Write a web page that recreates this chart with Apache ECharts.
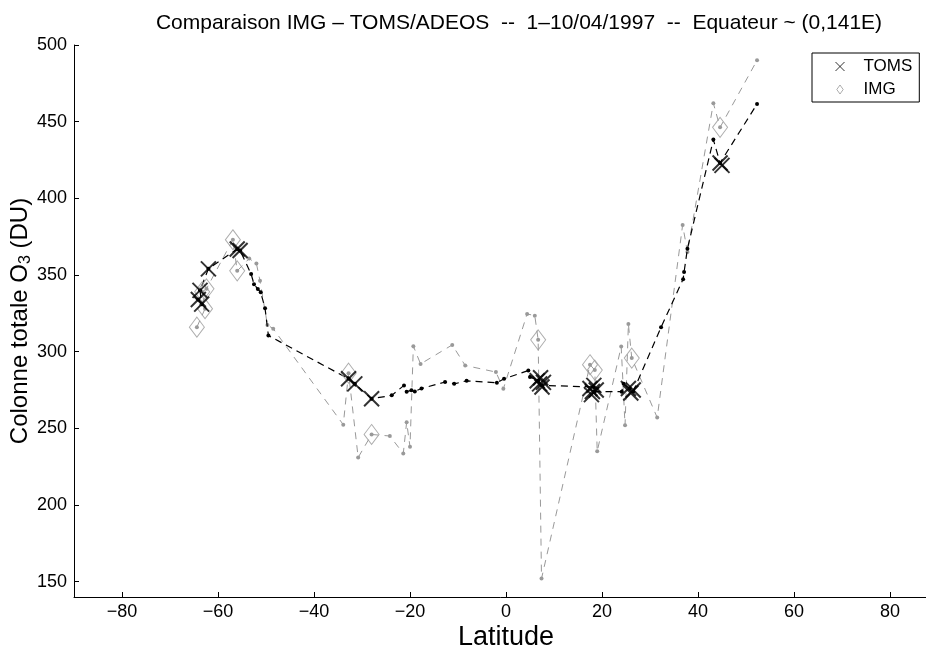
<!DOCTYPE html>
<html>
<head>
<meta charset="utf-8">
<script src="https://cdn.jsdelivr.net/npm/echarts@6/dist/echarts.min.js"></script>
<style>
  html, body { margin: 0; padding: 0; background: #fff; }
  #chart { width: 926px; height: 650px; }
</style>
</head>
<body>
<div id="chart"></div>
<script>
// tick values
const xTicks = [-80, -60, -40, -20, 0, 20, 40, 60, 80];
const yTicks = [150, 200, 250, 300, 350, 400, 450, 500];

// TOMS along-track values [latitude, DU]
const tomsTrack = [
  [-64.1, 334], [-63.4, 331], [-63.75, 340], [-62, 354], [-56, 367], [-55.4, 366],
  [-53.1, 350.6], [-52.5, 344], [-51.7, 340.8], [-51.1, 338.7], [-50.2, 328.3], [-49.5, 310.5],
  [-32.8, 282.3], [-31.5, 279], [-28, 269.3], [-23.8, 271.5], [-21.25, 278], [-20.7, 273.9],
  [-19.7, 274.8], [-19, 274.1], [-17.6, 276], [-12.7, 280.2], [-10.8, 279], [-8.2, 281],
  [-1.9, 279.7], [-0.4, 282.3], [4.65, 287.7], [5, 283.4], [6.7, 281.2], [7.5, 278],
  [18.2, 277], [18.5, 274], [24.1, 273.9], [24.5, 279], [25.8, 275.8], [26.5, 274],
  [32.3, 315.9], [36.9, 347.3], [37.1, 352], [37.8, 367.2], [43.2, 438.3], [44.6, 423.1],
  [52.3, 461.5]
];

// IMG along-track values [latitude, DU]
const imgTrack = [
  [-64.4, 316], [-62.7, 328], [-63.3, 339], [-62.4, 341], [-56.9, 373], [-56, 352.7],
  [-53.5, 360.7], [-52, 357.5], [-51.25, 346.2], [-49.7, 317.4], [-48.5, 315],
  [-33.9, 252.4], [-32.8, 286], [-30.8, 231], [-28, 246], [-24.2, 245], [-21.4, 233.6],
  [-20.7, 254], [-20, 238], [-19.3, 303.6], [-17.8, 292], [-11.2, 304.4], [-8.5, 291],
  [-2.1, 286.7], [-0.55, 275.8], [4.4, 324.6], [6, 323.5], [6.7, 307.7], [7.4, 152],
  [17.5, 291.5], [18.5, 288], [19, 235], [24, 303.3], [24.8, 252], [25.5, 318],
  [26.2, 295.8], [31.5, 257], [36.8, 382.6], [37.8, 365], [43.2, 462], [44.6, 446.3],
  [52.3, 490]
];

// coincident points
const tomsMatch = [
  [-64.1, 334], [-63.4, 331], [-63.75, 340], [-62, 354], [-56, 367], [-55.4, 366],
  [-32.8, 282.3], [-31.5, 279], [-28, 269.3],
  [6.5, 281], [7, 279], [7.5, 277], [7.8, 280], [7.2, 283],
  [17.5, 276], [18, 274], [18.3, 278], [18.8, 275], [17.8, 272],
  [25.5, 276], [26, 273], [26.5, 275],
  [44.6, 423], [45, 421.5]
];
const imgMatch = [
  [-64.4, 316], [-63.3, 339], [-62.7, 328], [-62.4, 341], [-56.9, 373], [-56, 352.7],
  [-32.8, 286], [-28, 246], [6.7, 307.7], [17.5, 291.5], [18.5, 288], [26.2, 295.8],
  [44.6, 446.3]
];

const GRAY = '#999999';
const crossPath = 'path://M0,0L10,10M10,0L0,10';
const FONT = 'Liberation Sans, Arial, sans-serif';

const getOption = () => {
  return {
    animation: false,
    backgroundColor: '#fff',
    textStyle: { fontFamily: FONT },
    title: {
      text: 'Comparaison IMG \u2013 TOMS/ADEOS  --  1\u201310/04/1997  --  Equateur ~ (0,141E)',
      left: 514,
      top: 8,
      textAlign: 'center',
      textStyle: { fontFamily: FONT, fontSize: 21, fontWeight: 'normal', color: '#000' }
    },
    legend: {
      orient: 'vertical',
      left: 812,
      top: 53,
      padding: [5, 7, 4, 21],
      itemGap: 6,
      itemWidth: 9,
      itemHeight: 9,
      borderColor: '#000',
      borderWidth: 1,
      textStyle: { fontFamily: FONT, fontSize: 17, color: '#000', padding: [0, 0, 0, 14] },
      data: [
        { name: 'TOMS', icon: crossPath, itemStyle: { color: 'none', borderColor: '#000', borderWidth: 1 } },
        { name: 'IMG', icon: 'path://M5,0L10,7L5,14L0,7Z', itemStyle: { color: 'none', borderColor: GRAY, borderWidth: 1 } }
      ]
    },
    grid: { left: 74, right: -12, top: 45, bottom: 53, containLabel: false, outerBoundsMode: 'none' },
    xAxis: {
      type: 'value',
      min: -90,
      max: 90,
      name: 'Latitude',
      nameLocation: 'middle',
      nameGap: 27,
      nameMoveOverlap: false,
      nameTextStyle: { fontFamily: FONT, fontSize: 27, color: '#000' },
      splitLine: { show: false },
      axisLine: { onZero: false, lineStyle: { color: '#000', width: 1 } },
      axisTick: { inside: true, length: 5, customValues: xTicks, lineStyle: { color: '#000' } },
      axisLabel: { customValues: xTicks, fontSize: 18, color: '#000', margin: 6,
        formatter: v => (v < 0 ? '\u2212' + Math.abs(v) : '' + v) }
    },
    yAxis: {
      type: 'value',
      min: 140,
      max: 500,
      name: '{a|Colonne totale O}{s|3}{a| (DU)}',
      nameLocation: 'middle',
      nameGap: 40,
      nameMoveOverlap: false,
      nameRotate: 90,
      nameTextStyle: {
        rich: {
          a: { fontFamily: FONT, fontSize: 24, color: '#000' },
          s: { fontFamily: FONT, fontSize: 16, color: '#000', padding: [12, 0, 0, 0] }
        }
      },
      splitLine: { show: false },
      axisLine: { onZero: false, lineStyle: { color: '#000', width: 1 } },
      axisTick: { inside: true, length: 5, customValues: yTicks, lineStyle: { color: '#000' } },
      axisLabel: { customValues: yTicks, fontSize: 18, color: '#000', margin: 7 }
    },
    series: [
      {
        name: 'IMG track',
        type: 'line',
        data: imgTrack,
        symbol: 'circle',
        symbolSize: 4,
        showSymbol: true,
        itemStyle: { color: GRAY },
        lineStyle: { color: GRAY, width: 1, type: [7, 6] },
        z: 2
      },
      {
        name: 'TOMS track',
        type: 'line',
        data: tomsTrack,
        symbol: 'circle',
        symbolSize: 4,
        showSymbol: true,
        itemStyle: { color: '#000' },
        lineStyle: { color: '#000', width: 1.2, type: [7, 5] },
        z: 3
      },
      {
        name: 'IMG',
        type: 'scatter',
        data: imgMatch,
        symbol: 'diamond',
        symbolSize: [15, 20],
        itemStyle: { color: 'transparent', borderColor: GRAY, borderWidth: 1 },
        z: 4
      },
      {
        name: 'TOMS',
        type: 'scatter',
        data: tomsMatch,
        symbol: crossPath,
        symbolSize: 15,
        itemStyle: { color: 'transparent', borderColor: '#000', borderWidth: 2 },
        z: 5
      }
    ]
  };
};

const initChart = () => {
  const chart = echarts.init(document.getElementById('chart'), null, { renderer: 'canvas' });
  chart.setOption(getOption());
};

window.addEventListener('load', () => {
  initChart();
});
</script>
</body>
</html>
